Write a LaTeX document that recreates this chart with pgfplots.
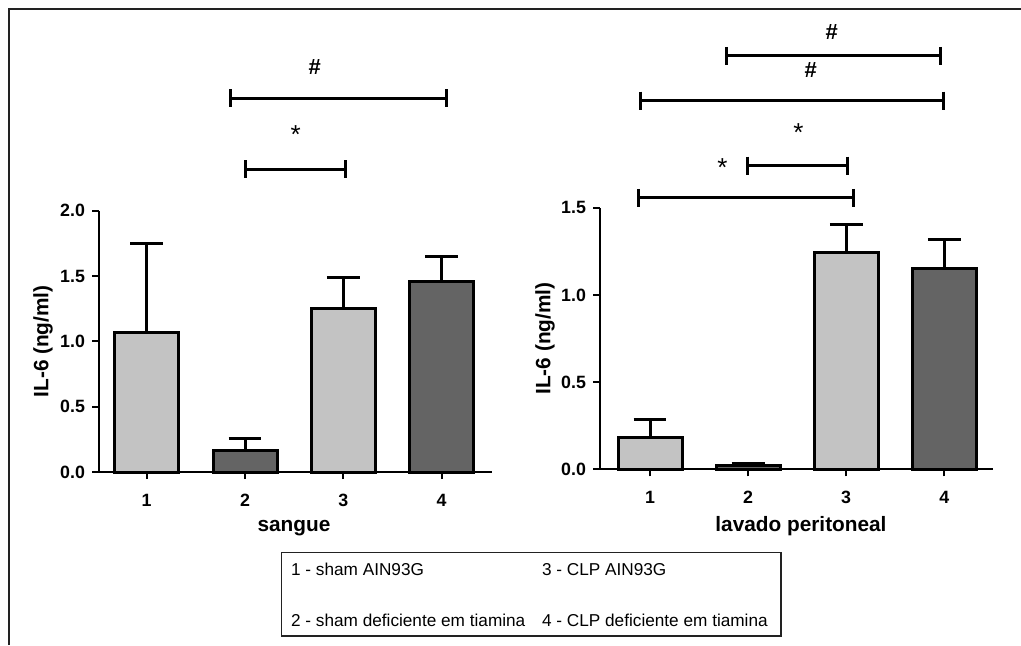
\documentclass[border=0pt]{standalone}
\usepackage{fontspec}
\setmainfont{Liberation Sans}
\usepackage{pgfplots}
\pgfplotsset{compat=1.18}
\definecolor{lightg}{HTML}{C3C3C3}
\definecolor{darkg}{HTML}{646464}
\definecolor{framec}{HTML}{222222}

\pgfplotsset{
  myaxis/.style={
    scale only axis,
    axis x line*=bottom, axis y line*=left,
    axis line style={line width=1pt, -, black},
    tick align=outside, major tick length=3.5pt,
    every tick/.style={line width=1pt, black},
    xtick={1,2,3,4}, ymin=0,
    clip=false,
    /pgf/number format/assume math mode=true,
    tick label style={font=\fontsize{8.9}{10}\selectfont\bfseries},
    x tick label style={yshift=-4pt},
    y tick label style={/pgf/number format/.cd, fixed, fixed zerofill, precision=1},
    label style={font=\fontsize{10.4}{12}\selectfont\bfseries},
  },
  barcommon/.style={ybar, bar width=32pt, bar shift=0pt, draw=black, line width=1.5pt,
    /pgfplots/error bars/y dir=plus, /pgfplots/error bars/y explicit,
    /pgfplots/error bars/error bar style={line width=1.5pt, black},
    /pgfplots/error bars/error mark options={rotate=90, mark size=8.2pt, line width=1.5pt, black}},
}

\newcommand{\brk}[3]{%
  \draw[line width=1.5pt] (axis cs:#1,#3) -- (axis cs:#2,#3);
  \draw[line width=1.5pt] ([yshift=4.5pt]axis cs:#1,#3) -- ([yshift=-4.5pt]axis cs:#1,#3);
  \draw[line width=1.5pt] ([yshift=4.5pt]axis cs:#2,#3) -- ([yshift=-4.5pt]axis cs:#2,#3);}
\newcommand{\hashsym}[2]{\node[anchor=base, inner sep=0pt, font=\fontsize{11}{12}\selectfont\bfseries, yshift=-3.8pt] at (axis cs:#1,#2) {\#};}
\newcommand{\starsym}[2]{\node[anchor=base, inner sep=0pt, font=\fontsize{13}{14}\selectfont, yshift=-7.5pt] at (axis cs:#1,#2) {*};}

\begin{document}
\begin{tikzpicture}
\useasboundingbox (0pt,0pt) rectangle (510.5pt,-322.5pt);
\draw[line width=1pt, framec] (4.5pt,-322.5pt) -- (4.5pt,-4.5pt) -- (510.5pt,-4.5pt);

% left panel: sangue
\begin{axis}[myaxis,
  at={(49.5pt,-236pt)}, anchor=south west,
  width=196.35pt, height=130.65pt,
  xmin=0.515, xmax=4.509, ymax=2.0,
  ytick={0,0.5,1.0,1.5,2.0},
  xlabel={sangue}, ylabel={IL-6 (ng/ml)},
  xlabel style={at={(axis description cs:0.4966,-0.2285)}, anchor=base},
  ylabel style={at={(axis description cs:-0.1426,0.5)}, anchor=center},
]
\addplot[barcommon, fill=lightg] coordinates {(1,1.067) +- (0,0.684) (3,1.250) +- (0,0.238)};
\addplot[barcommon, fill=darkg] coordinates {(2,0.163) +- (0,0.092) (4,1.462) +- (0,0.187)};
\brk{1.857}{4.05}{2.861}
\hashsym{2.71}{3.10}
\brk{2.0}{3.02}{2.318}
\starsym{2.516}{2.63}
\end{axis}

% right panel: lavado peritoneal
\begin{axis}[myaxis,
  at={(300pt,-234.65pt)}, anchor=south west,
  width=196.65pt, height=130.8pt,
  xmin=0.49, xmax=4.5, ymax=1.5,
  ytick={0,0.5,1.0,1.5},
  xlabel={lavado peritoneal}, ylabel={IL-6 (ng/ml)},
  xlabel style={at={(axis description cs:0.511,-0.2385)}, anchor=base},
  ylabel style={at={(axis description cs:-0.1398,0.5)}, anchor=center},
]
\addplot[barcommon, fill=lightg] coordinates {(1,0.183) +- (0,0.100) (3,1.242) +- (0,0.161)};
\addplot[barcommon, fill=darkg] coordinates {(2,0.023) +- (0,0.011) (4,1.150) +- (0,0.165)};
\brk{1.775}{3.963}{2.37}
\hashsym{2.852}{2.509}
\brk{0.905}{3.99}{2.114}
\hashsym{2.638}{2.29}
\starsym{2.512}{1.968}
\brk{1.989}{3.015}{1.741}
\starsym{1.737}{1.764}
\brk{0.881}{3.073}{1.556}
\end{axis}

% legend box
\draw[line width=0.6pt, framec] (140.85pt,-276.35pt) rectangle (390.5pt,-318pt);
\begin{scope}[every node/.style={anchor=base west, inner sep=0pt, font=\fontsize{8.6}{10}\selectfont}]
\node at (145.35pt,-287.5pt) {1 - sham AIN93G};
\node at (145.35pt,-313pt) {2 - sham deficiente em tiamina};
\node at (270.85pt,-287.5pt) {3 - CLP AIN93G};
\node at (270.85pt,-313pt) {4 - CLP deficiente em tiamina};
\end{scope}
\end{tikzpicture}
\end{document}
